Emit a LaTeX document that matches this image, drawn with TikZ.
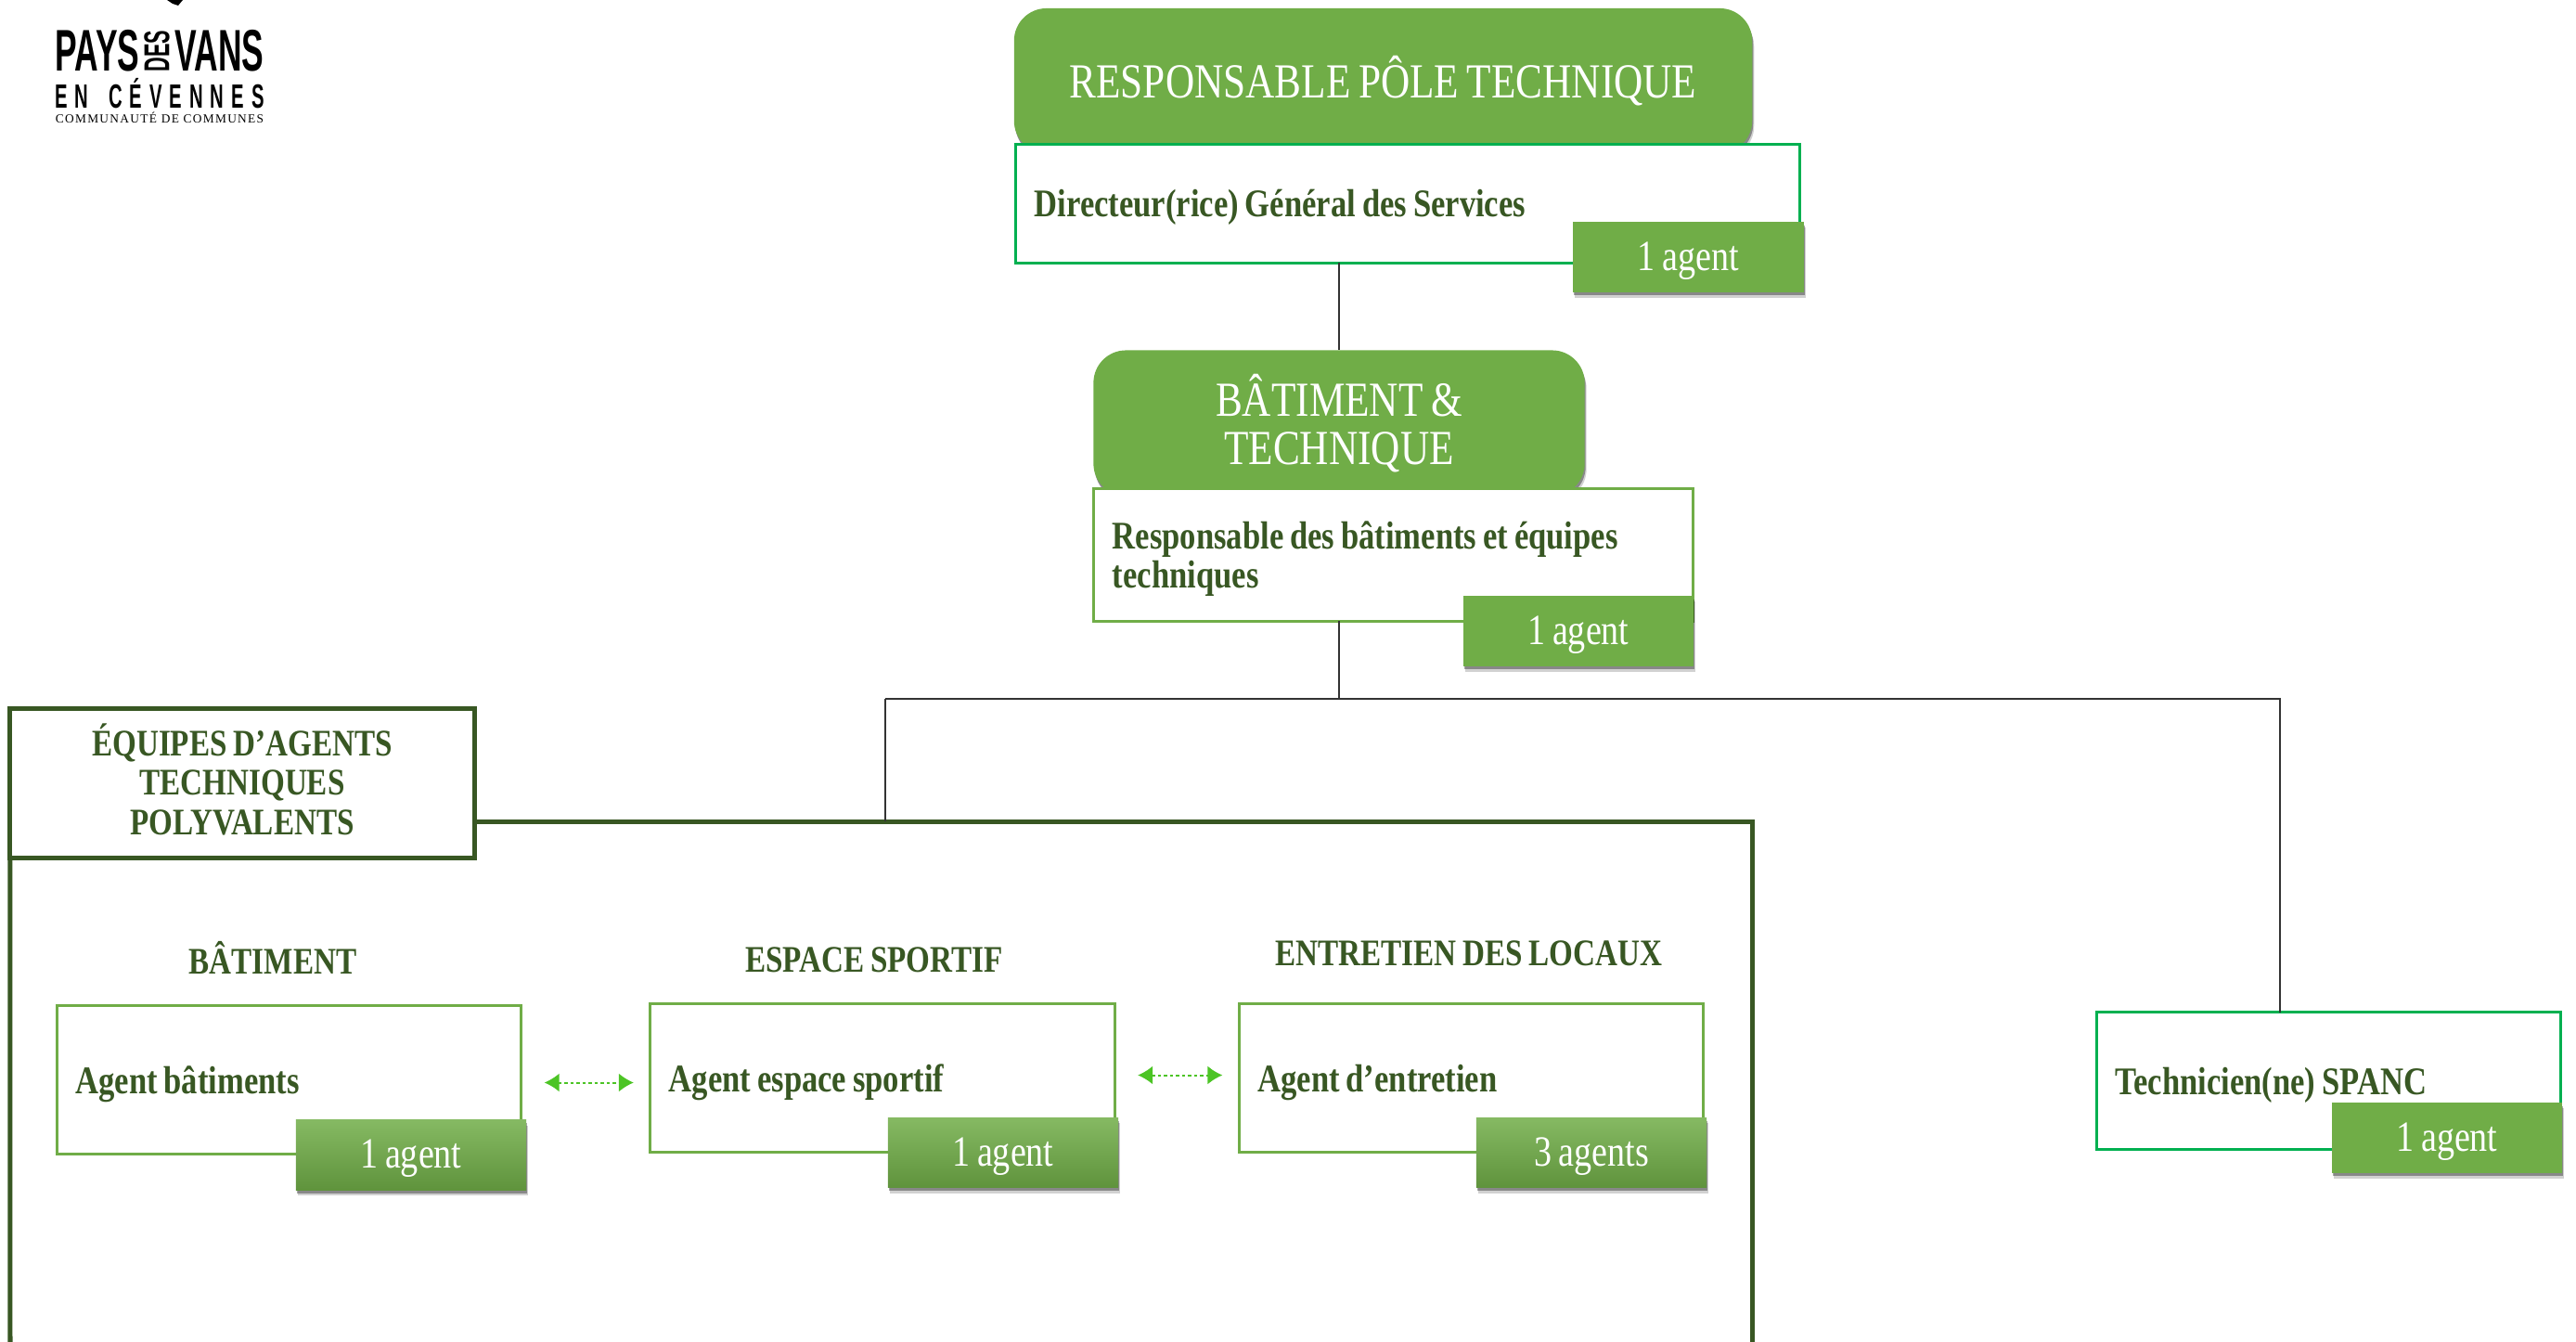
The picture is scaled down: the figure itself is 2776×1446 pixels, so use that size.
\documentclass[tikz,border=0pt]{standalone}
\usepackage{fontspec}
\setmainfont[FakeStretch=0.82,WordSpace=0.8]{Liberation Serif}
\newfontfamily\logofont[FakeStretch=0.56]{Liberation Sans}
\newfontfamily\logowide[FakeStretch=0.56,LetterSpace=22,WordSpace=1.6]{Liberation Sans}
\newfontfamily\logoserif[LetterSpace=10]{Liberation Serif}
\usetikzlibrary{shadows,arrows.meta}
\definecolor{leafgreen}{HTML}{70AD47}
\definecolor{darkleaf}{HTML}{385723}
\definecolor{emerald}{HTML}{00B050}
\definecolor{linkgreen}{HTML}{4CC425}
\tikzset{
    softshadow/.style={
        drop shadow={shadow xshift=.02cm,shadow yshift=-.06cm,fill=black,opacity=.18},
        drop shadow={shadow xshift=.01cm,shadow yshift=-.035cm,fill=black,opacity=.35}},
    headbox/.style={fill=leafgreen,text=white,rounded corners=.35cm,align=center,softshadow,font=\fontsize{15}{15}\selectfont},
    staffbox/.style={draw=leafgreen,fill=white,line width=.03cm,inner xsep=.2cm,inner ysep=0pt,outer sep=0pt,align=flush left,text=darkleaf,font=\fontsize{12}{12}\selectfont\bfseries,execute at end node=\vspace{-.08cm}},
    smallstaff/.style={staffbox,text width=4.6cm},
    agentbadge/.style={fill=leafgreen,text=white,minimum width=2.48cm,minimum height=.75cm,inner sep=0pt,text height=8pt,text depth=0pt,softshadow,font=\fontsize{13.2}{13.2}\selectfont},
    fadebadge/.style={agentbadge,top color=leafgreen!85!white,bottom color=leafgreen!85!black},
    teamhead/.style={text=darkleaf,font=\fontsize{11.5}{12}\selectfont\bfseries},
    wire/.style={draw=black!80,line width=.02cm},
    peerlink/.style={{Latex[length=.16cm,width=.2cm]}-{Latex[length=.16cm,width=.2cm]},dash pattern=on .035cm off .03cm,linkgreen,line width=.02cm,shorten <=.25cm,shorten >=.18cm},
}
\begin{document}
\begin{tikzpicture}[x=.01cm,y=-.01cm]
    \useasboundingbox (0,0) rectangle (2776,1446);
    % logo
    \fill (180,0) -- (197,0) -- (192,6) -- (186,4) -- cycle;
    \node[inner sep=0pt,anchor=west] (logoa) at (59,55) {\fontsize{18}{18}\logofont\bfseries PAYS};
    \node[inner sep=0pt,rotate=90] (logob) at (169,55) {\fontsize{11}{11}\logofont\bfseries DES};
    \node[inner sep=0pt,anchor=east] (logoc) at (285,55) {\fontsize{18}{18}\logofont\bfseries VANS};
    \node[inner sep=0pt] (logod) at (172,101) {\fontsize{10.3}{10.3}\logowide\bfseries EN CÉVENNES};
    \node[inner sep=0pt] (logoe) at (172,127) {\fontsize{3.8}{4}\logoserif COMMUNAUTÉ DE COMMUNES};
    % tete du pole
    \node[headbox,minimum width=7.95cm,minimum height=1.56cm] (head1) at (1490.5,87) {RESPONSABLE PÔLE TECHNIQUE};
    \node[staffbox,draw=emerald,text width=8.04cm,minimum height=1.27cm] (box1) at (1517,219.5) {Directeur(rice) Général des Services};
    \node[agentbadge] (badge1) at (1819.5,277) {1 agent};
    % batiment et technique
    \node[headbox,minimum width=5.29cm,minimum height=1.57cm] (head2) at (1443,456) {BÂTIMENT \&\\TECHNIQUE};
    \node[staffbox,text width=6.05cm,minimum height=1.42cm] (box2) at (1501.5,598) {Responsable des bâtiments et équipes\\techniques};
    \node[agentbadge] (badge2) at (1701,680) {1 agent};
    % equipes
    \coordinate (split) at (1443,753);
    \coordinate (teamtop) at (954,753);
    \coordinate (spanctop) at (2457,753);
    \coordinate (framecorner) at (1888,885);
    \coordinate (frameright) at (1888,1446);
    \coordinate (frameleft) at (11,1446);
    \node[draw=darkleaf,fill=white,line width=.05cm,minimum width=5cm,minimum height=1.6cm,inner sep=0pt,outer sep=0pt,align=center,text depth=.09cm,teamhead] (team) at (261,844) {ÉQUIPES D’AGENTS\\TECHNIQUES\\POLYVALENTS};
    \draw[darkleaf,line width=.05cm] (team.east |- framecorner) -- (framecorner) -- (frameright);
    \draw[darkleaf,line width=.05cm] (team.south west) -- (frameleft);
    \node[teamhead] (heada) at (294,1032) {BÂTIMENT};
    \node[teamhead] (headb) at (942,1034) {ESPACE SPORTIF};
    \node[teamhead] (headc) at (1583,1027) {ENTRETIEN DES LOCAUX};
    \node[staffbox,smallstaff,minimum height=1.59cm] (boxa) at (311.5,1163.5) {Agent bâtiments};
    \node[staffbox,smallstaff,minimum height=1.59cm] (boxb) at (951,1161.5) {Agent espace sportif};
    \node[staffbox,smallstaff,minimum height=1.59cm] (boxc) at (1585.5,1161.5) {Agent d’entretien};
    \node[staffbox,smallstaff,draw=emerald,minimum height=1.47cm] (boxd) at (2509.5,1164.5) {Technicien(ne) SPANC};
    \node[fadebadge] (badgea) at (443,1244.5) {1 agent};
    \node[fadebadge] (badgeb) at (1081,1242) {1 agent};
    \node[fadebadge] (badgec) at (1715,1242) {3 agents};
    \node[agentbadge] (badged) at (2637,1226) {1 agent};
    % liens
    \draw[wire] (box1.south -| head2.north) -- (head2.north);
    \draw[wire] (box2.south -| split) -- (split);
    \draw[wire] (teamtop) -- (spanctop) -- (boxd.north -| spanctop);
    \draw[wire] (teamtop) -- (teamtop |- framecorner);
    \draw[peerlink] ([yshift=-.03cm]boxa.east) -- ([yshift=-.03cm]boxa.east -| boxb.west);
    \draw[peerlink] ([yshift=.03cm]boxb.east) -- ([yshift=.03cm]boxb.east -| boxc.west);
\end{tikzpicture}
\end{document}
